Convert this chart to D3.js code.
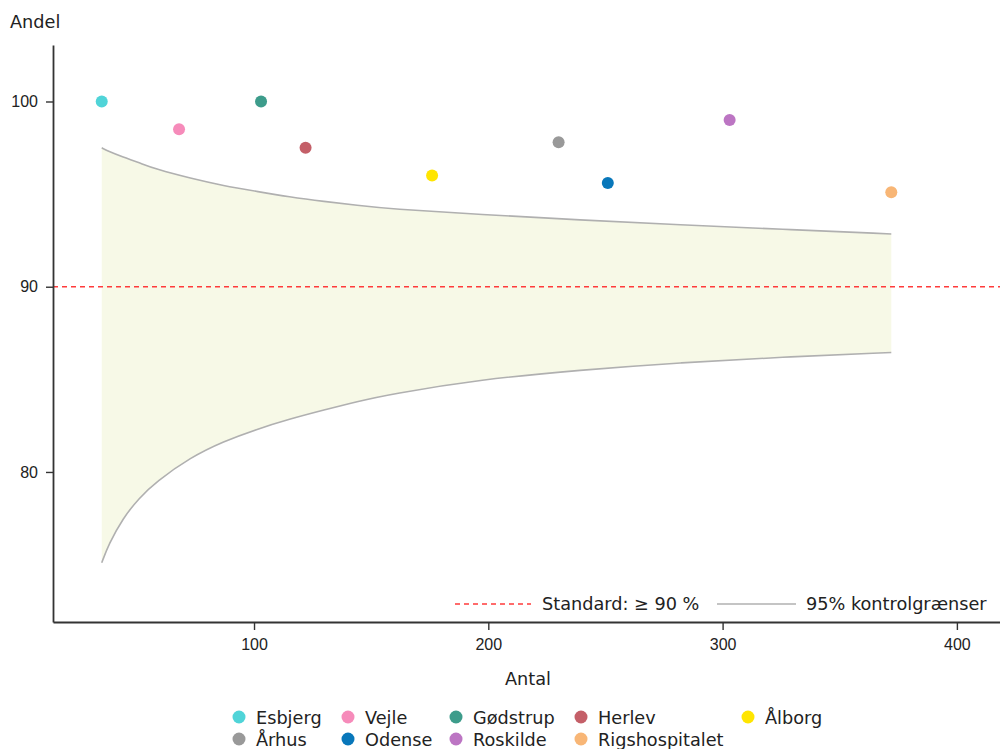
<!DOCTYPE html>
<html>
<head>
<meta charset="utf-8">
<script src="https://cdn.jsdelivr.net/npm/d3@7"></script>
<style>
  html, body { margin: 0; padding: 0; background: #fff; }
  svg { display: block; }
</style>
</head>
<body>
<svg id="chart" width="1000" height="749"></svg>
<script>
// Hospitals: number of cases (Antal) and share meeting the indicator (Andel, %)
const hospitals = ["Esbjerg", "Vejle", "Gødstrup", "Herlev", "Ålborg", "Århus", "Odense", "Roskilde", "Rigshospitalet"];
const antal     = [35, 68, 103, 122, 176, 230, 251, 303, 372];
const andel     = [100, 98.5, 100, 97.5, 96.0, 97.8, 95.6, 99.0, 95.1];
const colors    = ["#50d4d8", "#f68bba", "#3d9c8b", "#c45f68", "#ffe500", "#999999", "#0877ba", "#bc75c3", "#f8b676"];

// 95% control limits at selected sample sizes
const limitN     = [35, 38, 44, 51, 58, 73, 87, 101, 115, 130, 144, 158, 197, 239, 282, 325, 372];
const limitUpper = [97.5, 97.3, 97.0, 96.7, 96.35, 95.85, 95.45, 95.15, 94.85, 94.6, 94.4, 94.2, 93.9, 93.6, 93.35, 93.1, 92.85];
const limitLower = [75.1, 76.1, 77.5, 78.6, 79.45, 80.8, 81.65, 82.3, 82.85, 83.35, 83.8, 84.2, 85.0, 85.5, 85.9, 86.2, 86.45];

const standard = 90;
const xTicks = [100, 200, 300, 400];
const yTicks = [80, 90, 100];

const svg = d3.select("#chart");
const plotLeft = 53, plotRight = 1000, plotTop = 45, plotBottom = 622;

const x = d3.scaleLinear().domain([14.2, 418.4]).range([plotLeft, plotRight]);
const y = d3.scaleLinear().domain([71.9, 103.05]).range([plotBottom, plotTop]);

const limits = limitN.map((n, i) => ({ n, lo: limitLower[i], hi: limitUpper[i] }));

// Funnel band
svg.append("path")
  .datum(limits)
  .attr("fill", "#f7f9e7")
  .attr("d", d3.area().x(d => x(d.n)).y0(d => y(d.lo)).y1(d => y(d.hi)).curve(d3.curveBasis));

["hi", "lo"].forEach(k => {
  svg.append("path")
    .datum(limits)
    .attr("fill", "none")
    .attr("stroke", "#b0b0b0")
    .attr("stroke-width", 1.6)
    .attr("d", d3.line().x(d => x(d.n)).y(d => y(d[k])).curve(d3.curveBasis));
});

// Standard line
svg.append("line")
  .attr("x1", plotLeft).attr("x2", plotRight)
  .attr("y1", y(standard)).attr("y2", y(standard))
  .attr("stroke", "#ff3b3b").attr("stroke-width", 1.4)
  .attr("stroke-dasharray", "5,4");

// Hospital points
svg.append("g").selectAll("circle")
  .data(hospitals)
  .join("circle")
  .attr("cx", (d, i) => x(antal[i]))
  .attr("cy", (d, i) => y(andel[i]))
  .attr("r", 6)
  .attr("fill", (d, i) => colors[i]);

// Axes
const tickFont = "'Liberation Sans', Arial, sans-serif";
const xAxis = svg.append("g")
  .attr("transform", `translate(0,${plotBottom})`)
  .call(d3.axisBottom(x).tickValues(xTicks).tickSize(8).tickSizeOuter(0).tickPadding(9));
const yAxis = svg.append("g")
  .attr("transform", `translate(${plotLeft},0)`)
  .call(d3.axisLeft(y).tickValues(yTicks).tickSize(7).tickSizeOuter(0).tickPadding(8));
[xAxis, yAxis].forEach(g => {
  g.select(".domain").attr("stroke", "#333").attr("stroke-width", 1.8);
  g.selectAll(".tick line").attr("stroke", "#333").attr("stroke-width", 1.4);
  g.selectAll(".tick text").attr("fill", "#222").style("font-family", tickFont).style("font-size", "16px");
});

const labelFont = "'DejaVu Sans', sans-serif";
svg.append("text").attr("x", 10).attr("y", 28)
  .style("font-family", labelFont).style("font-size", "17.7px").attr("fill", "#222").text("Andel");
svg.append("text").attr("x", 528).attr("y", 685).attr("text-anchor", "middle")
  .style("font-family", labelFont).style("font-size", "17.7px").attr("fill", "#222").text("Antal");

// Line legend inside the plot
const lg = svg.append("g").style("font-family", labelFont).style("font-size", "17.7px").attr("fill", "#222");
lg.append("line").attr("x1", 455).attr("x2", 531).attr("y1", 604).attr("y2", 604)
  .attr("stroke", "#ff3b3b").attr("stroke-width", 1.4).attr("stroke-dasharray", "5,4");
lg.append("text").attr("x", 542).attr("y", 610).text("Standard: ≥ 90 %");
lg.append("line").attr("x1", 717).attr("x2", 796).attr("y1", 604).attr("y2", 604)
  .attr("stroke", "#b0b0b0").attr("stroke-width", 1.6);
lg.append("text").attr("x", 806).attr("y", 610).text("95% kontrolgrænser");

// Hospital legend below the plot
const colX = [239, 348, 456, 581, 748];
const rowY = [717, 739];
const leg = svg.append("g").style("font-family", labelFont).style("font-size", "17.7px").attr("fill", "#222");
hospitals.forEach((h, i) => {
  const cx = colX[i % 5], cy = rowY[Math.floor(i / 5)];
  leg.append("circle").attr("cx", cx).attr("cy", cy).attr("r", 6.5).attr("fill", colors[i]);
  leg.append("text").attr("x", cx + 17).attr("y", cy + 6.5).text(h);
});
</script>
</body>
</html>
